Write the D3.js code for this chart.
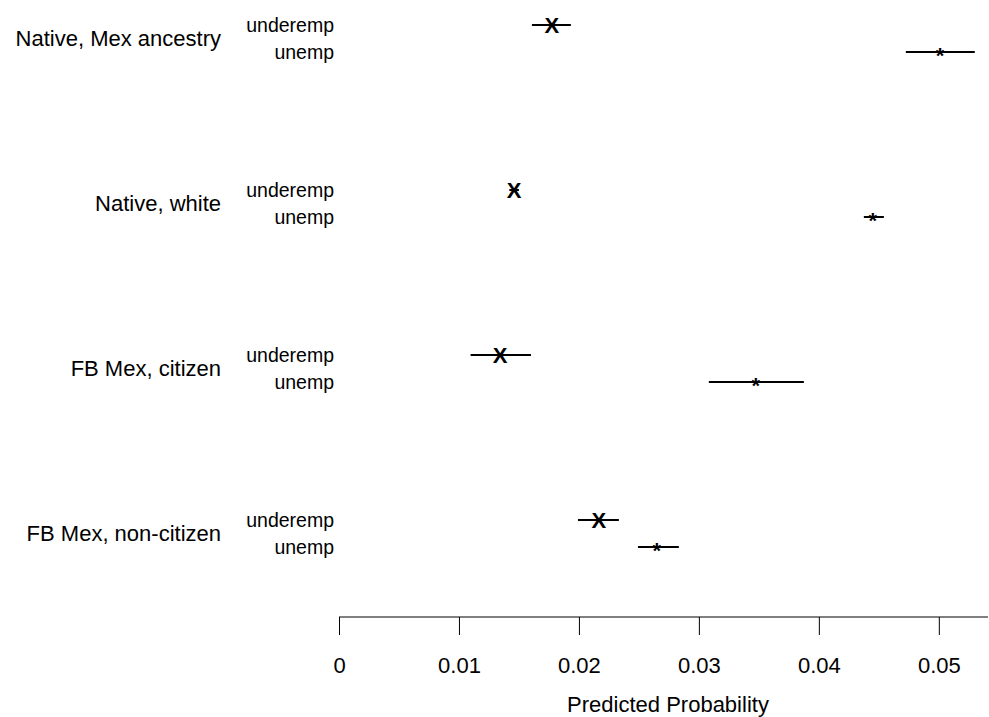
<!DOCTYPE html>
<html>
<head>
<meta charset="utf-8">
<script src="https://cdn.jsdelivr.net/npm/d3@7"></script>
<style>
  body { margin: 0; background: #fff; }
  text { font-family: "Liberation Sans", Arial, sans-serif; fill: #000; }
</style>
</head>
<body>
<svg id="chart"></svg>
<script>
const groups = ["Native, Mex ancestry", "Native, white", "FB Mex, citizen", "FB Mex, non-citizen"];
const outcomes = ["underemp", "unemp"];
const underempEst = [0.01775, 0.01460, 0.01342, 0.02167];
const underempLo = [0.01608, 0.01420, 0.01097, 0.01992];
const underempHi = [0.01933, 0.01500, 0.01600, 0.02333];
const unempEst = [0.05010, 0.04450, 0.03475, 0.02650];
const unempLo = [0.04725, 0.04375, 0.03083, 0.02492];
const unempHi = [0.05300, 0.04542, 0.03875, 0.02833];
const xTicks = [0, 0.01, 0.02, 0.03, 0.04, 0.05];

const width = 989, height = 717;
const svg = d3.select("#chart").attr("width", width).attr("height", height);

const x = d3.scaleLinear().domain([0, 0.0541]).range([339, 988]);
const yGroup = d3.scalePoint().domain(groups).range([38.5, 533.5]);
const yRow = d3.scalePoint().domain(outcomes).range([-13.5, 13.5]);

const rows = [];
groups.forEach((g, i) => {
  rows.push({ group: g, outcome: "underemp", est: underempEst[i], lo: underempLo[i], hi: underempHi[i] });
  rows.push({ group: g, outcome: "unemp", est: unempEst[i], lo: unempLo[i], hi: unempHi[i] });
});
const yPos = d => yGroup(d.group) + yRow(d.outcome);

// group labels
svg.append("g").selectAll("text").data(groups).join("text")
  .attr("x", 221).attr("y", d => yGroup(d))
  .attr("text-anchor", "end").attr("dy", "0.35em")
  .style("font-size", "22px").text(d => d);

// outcome labels
svg.append("g").selectAll("text").data(rows).join("text")
  .attr("x", 334).attr("y", yPos)
  .attr("text-anchor", "end").attr("dy", "0.35em")
  .style("font-size", "19.5px").text(d => d.outcome);

// confidence intervals
svg.append("g").selectAll("line").data(rows).join("line")
  .attr("x1", d => x(d.lo)).attr("x2", d => x(d.hi))
  .attr("y1", yPos).attr("y2", yPos)
  .attr("stroke", "#000").attr("stroke-width", 2);

// point estimates
svg.append("g").selectAll("text").data(rows).join("text")
  .attr("x", d => x(d.est)).attr("y", yPos)
  .attr("text-anchor", "middle")
  .attr("dy", d => d.outcome === "underemp" ? "0.36em" : "0.52em")
  .style("font-size", "22px")
  .style("font-weight", "bold")
  .text(d => d.outcome === "underemp" ? "X" : "*");

// x axis
const xAxis = d3.axisBottom(x).tickValues(xTicks).tickSize(18).tickPadding(0)
  .tickFormat(d => d === 0 ? "0" : d3.format(".2f")(d));
const xAxisGroup = svg.append("g")
  .attr("transform", "translate(0,617)")
  .call(xAxis);
xAxisGroup.select(".domain").attr("d", `M${x.range()[0]},0H${x.range()[1]}`).attr("stroke", "#000");
xAxisGroup.selectAll(".tick line").attr("stroke", "#000");
xAxisGroup.selectAll(".tick text")
  .attr("y", 56).attr("dy", null)
  .style("font-size", "22px").style("font-family", "Liberation Sans, Arial, sans-serif");

svg.append("text")
  .attr("x", 668).attr("y", 712)
  .attr("text-anchor", "middle")
  .style("font-size", "22px")
  .text("Predicted Probability");
</script>
</body>
</html>
